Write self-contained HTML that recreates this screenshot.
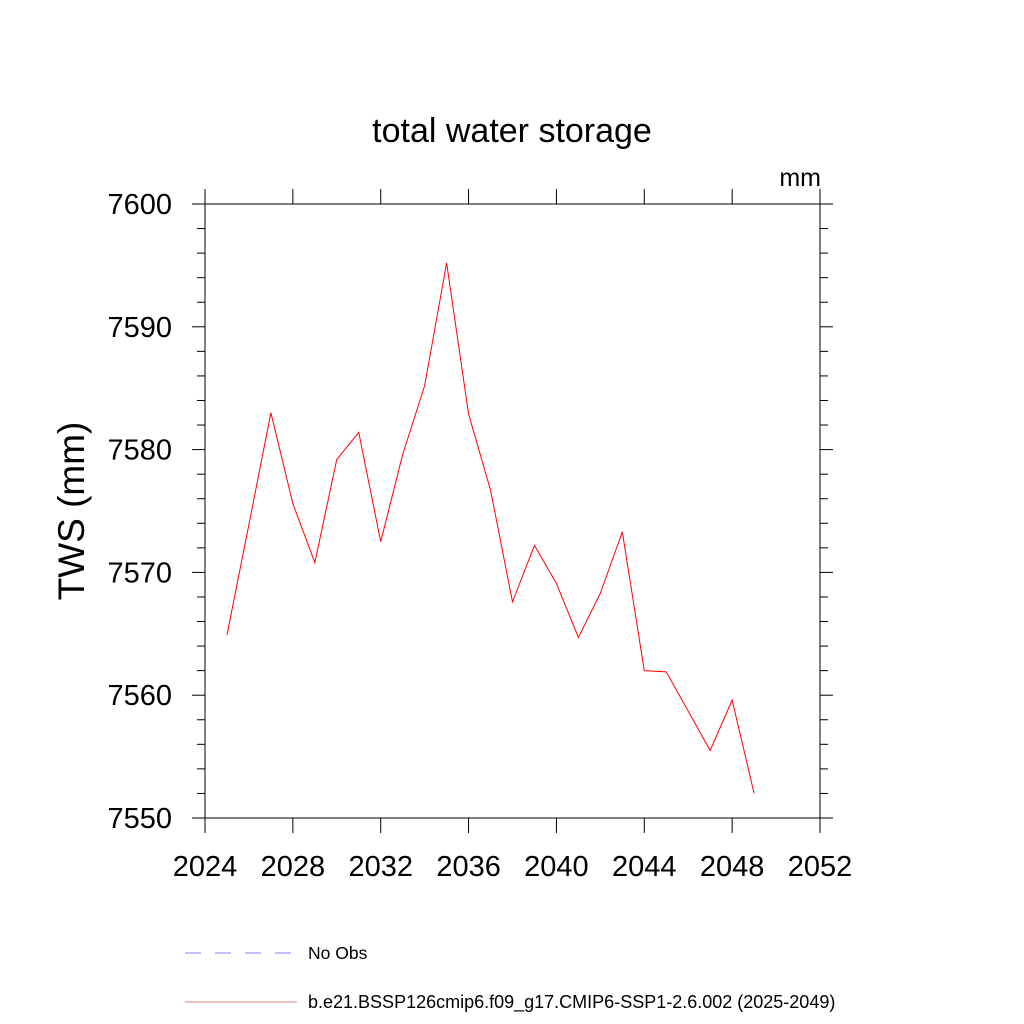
<!DOCTYPE html>
<html><head><meta charset="utf-8"><style>body{margin:0;background:#fff}svg{display:block}text{font-family:"Liberation Sans",sans-serif}</style></head>
<body>
<svg id="chart" width="1024" height="1024" xmlns="http://www.w3.org/2000/svg">
<text x="512" y="142" font-size="34" text-anchor="middle">total water storage</text>
<text x="821" y="186" font-size="25" text-anchor="end">mm</text>
<text transform="translate(84,511) rotate(-90)" font-size="37" text-anchor="middle">TWS  (mm)</text>
<g id="axes"></g>
<polyline id="series" fill="none" stroke="#ff0000" stroke-width="1"/>
<line x1="185" y1="953" x2="292" y2="953" stroke="#8080ff" stroke-width="1" stroke-dasharray="16,14"/>
<text x="308" y="959" font-size="17.5">No Obs</text>
<line x1="185" y1="1002" x2="297" y2="1002" stroke="#e08080" stroke-width="1"/>
<text x="308" y="1008" font-size="18">b.e21.BSSP126cmip6.f09_g17.CMIP6-SSP1-2.6.002 (2025-2049)</text>
</svg>
<script>
const years=[2025,2026,2027,2028,2029,2030,2031,2032,2033,2034,2035,2036,2037,2038,2039,2040,2041,2042,2043,2044,2045,2046,2047,2048,2049];
const tws=[7564.9,7573.9,7583.0,7575.6,7570.8,7579.2,7581.4,7572.5,7579.6,7585.2,7595.2,7582.9,7576.7,7567.6,7572.2,7569.1,7564.7,7568.3,7573.3,7562.0,7561.9,7558.7,7555.5,7559.6,7552.0];
const xTicks=[2024,2028,2032,2036,2040,2044,2048,2052];
const yTicks=[7550,7560,7570,7580,7590,7600];
const L=205,R=820,T=204,B=818,X0=2024,X1=2052,Y0=7550,Y1=7600;
const xs=v=>L+(v-X0)/(X1-X0)*(R-L);
const ys=v=>B-(v-Y0)/(Y1-Y0)*(B-T);
const NS="http://www.w3.org/2000/svg";
const ax=document.getElementById('axes');
function ln(x1,y1,x2,y2,name,w){const l=document.createElementNS(NS,'line');l.setAttribute('x1',x1);l.setAttribute('y1',y1);l.setAttribute('x2',x2);l.setAttribute('y2',y2);l.setAttribute('stroke','#000');l.setAttribute('stroke-width',w||1);


ax.appendChild(l);}
function tx(x,y,s,anchor,name){const t=document.createElementNS(NS,'text');t.setAttribute('x',x);t.setAttribute('y',y);t.setAttribute('font-size','29');t.setAttribute('text-anchor',anchor);t.textContent=s;


ax.appendChild(t);}
ln(L,T,R,T,'plot-frame-top');ln(L,B,R,B,'plot-frame-bottom');ln(L,T,L,B,'plot-frame-left');ln(R,T,R,B,'plot-frame-right');
xTicks.forEach(v=>{const x=xs(v);ln(x,B,x,B+15,'x-tick');ln(x,T,x,T-15,'x-tick-top');tx(x,876,String(v),'middle','x-tick-label');});
for(let v=Y0;v<=Y1;v+=2){const y=ys(v);const major=(v-Y0)%10===0;const len=major?13:8;ln(L-len,y,L,y,'y-tick');ln(R,y,R+len,y,'y-tick-right');}
yTicks.forEach(v=>{tx(172,ys(v)+10,String(v),'end','y-tick-label');});
const pl=document.getElementById('series');
pl.setAttribute('points',years.map((y,i)=>xs(y)+','+ys(tws[i])).join(' '));
</script>
</body></html>
